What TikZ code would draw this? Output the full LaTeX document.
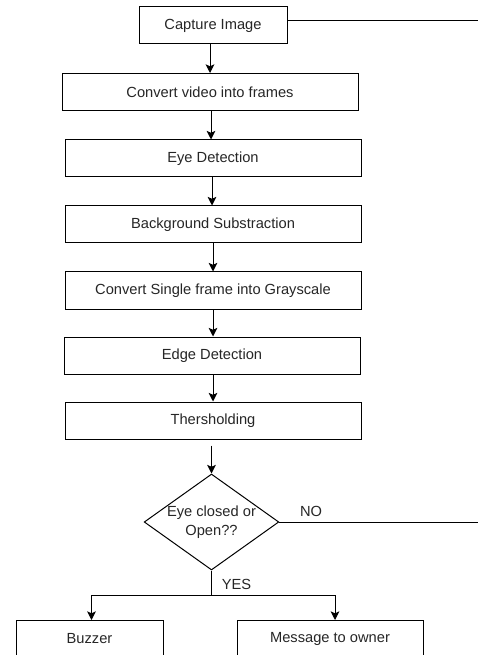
\documentclass[tikz,border=0pt]{standalone}
\usepackage{fontspec}
\setmainfont{Liberation Sans}
\usetikzlibrary{shapes.geometric,arrows.meta}
\begin{document}
\begin{tikzpicture}[x=0.75pt, y=-0.75pt,
    every node/.style={font=\fontsize{11}{14}\selectfont, text=black!85},
    stepbox/.style={draw, line width=0.75pt, minimum width=222pt, minimum height=27.75pt, inner sep=0pt},
    decision/.style={draw, diamond, line width=0.75pt, aspect=1.4, minimum width=101pt, minimum height=72pt, inner sep=0pt, align=center},
    flow/.style={line width=0.75pt, -{Stealth[length=6.5pt, width=6.5pt, inset=1.5pt]}},
    wire/.style={line width=0.75pt}]
    \useasboundingbox (0,0) rectangle (478,655);

    \node[stepbox, minimum width=111pt] (cap) at (213,25.5) {Capture Image};
    \node[stepbox] (vid) at (210,92) {Convert video into frames};
    \node[stepbox] (eye) at (213,158.5) {Eye Detection};
    \node[stepbox] (bg) at (213,224.5) {Background Substraction};
    \node[stepbox] (gray) at (213,290.5) {Convert Single frame into Grayscale};
    \node[stepbox] (edge) at (212,355.5) {Edge Detection};
    \node[stepbox] (thr) at (213,420.5) {Thersholding};
    \node[decision] (dec) at (211.5,522) {Eye closed or\\Open??};
    \node[stepbox, minimum width=110.25pt] (buzz) at (89.5,639) {Buzzer};
    \node[stepbox, minimum width=139.5pt] (msg) at (330,639) {Message to owner};

    \coordinate (capout) at (478,21);
    \coordinate (noout) at (478,522);
    \coordinate (split) at (211.5,595);

    \draw[wire] (cap.east |- capout) -- (capout);
    \draw[flow] (cap.south -| vid.north) -- (vid.north);
    \draw[flow] (vid.south -| 211,0) -- (eye.north -| 211,0);
    \draw[flow] (eye.south -| 212,0) -- (bg.north -| 212,0);
    \draw[flow] (bg.south -| 213,0) -- (gray.north -| 213,0);
    \draw[flow] (gray.south -| 213,0) -- (edge.north -| 213,0);
    \draw[flow] (edge.south -| 213,0) -- (thr.north -| 213,0);
    \draw[flow] ([yshift=-4.5pt]thr.south -| dec.north) -- (dec.north);

    \draw[wire] (dec.east) -- node[above, pos=0.16] {NO} (noout);
    \draw[wire] (dec.south) -- node[right, pos=0.55, xshift=4pt] {YES} (split);
    \draw[flow] (split) -| ([xshift=1.5pt]buzz.north);
    \draw[flow] (split) -| ([xshift=3.75pt]msg.north);
\end{tikzpicture}
\end{document}
